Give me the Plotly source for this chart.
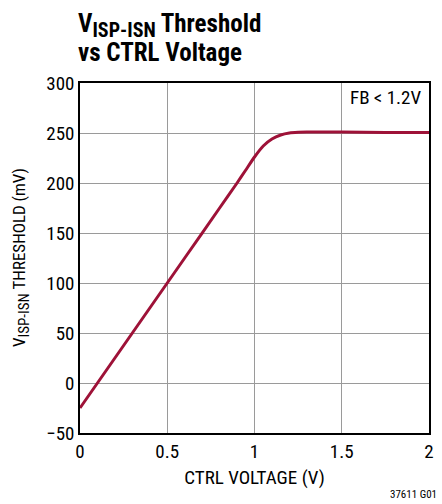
import plotly.graph_objects as go

ctrl_v = [0.0, 0.2, 0.4, 0.6, 0.8, 0.9, 0.95, 1.0, 1.05, 1.1, 1.15, 1.2, 1.25, 1.3, 1.5, 1.75, 2.0]
threshold_mv = [-25, 25, 75, 125, 175, 200, 213, 226, 237, 244, 248, 250, 250.7, 251, 251, 250.5, 250.5]

x_ticks = [0, 0.5, 1, 1.5, 2]
x_labels = ["0", "0.5", "1", "1.5", "2"]
y_ticks = [-50, 0, 50, 100, 150, 200, 250, 300]
y_labels = ["\u221250", "0", "50", "100", "150", "200", "250", "300"]

FONT = "Liberation Sans Narrow, Roboto Condensed, Arial Narrow, sans-serif"

fig = go.Figure()
fig.add_trace(go.Scatter(
    x=ctrl_v, y=threshold_mv, mode="lines",
    line=dict(color="#9E1238", width=3, shape="spline", smoothing=0.6),
    showlegend=False, hoverinfo="skip"))

axis_common = dict(
    showgrid=True, gridcolor="#9a9a9a", gridwidth=1,
    showline=True, linecolor="black", linewidth=1.5, mirror=True,
    ticks="", zeroline=False,
    tickfont=dict(family=FONT, size=19, color="black"),
)

fig.update_xaxes(range=[0, 2], tickvals=x_ticks, ticktext=x_labels,
                 title=dict(text="CTRL VOLTAGE (V)", font=dict(family=FONT, size=19, color="black"), standoff=9),
                 **axis_common)
fig.update_yaxes(range=[-50, 300], tickvals=y_ticks, ticktext=y_labels, **axis_common)

fig.update_layout(
    width=442, height=504,
    margin=dict(l=80, r=8, t=83, b=71),
    paper_bgcolor="white", plot_bgcolor="white",
    font=dict(family=FONT, color="black"),
    annotations=[
        dict(text="<b>V<sub><span style='font-size:20px'>ISP-ISN</span></sub> Threshold</b>",
             xref="paper", yref="paper", x=0, xshift=-4, y=1.0, yshift=76, xanchor="left", yanchor="top",
             align="left", showarrow=False, font=dict(family=FONT, size=25, color="black")),
        dict(text="<b>vs CTRL Voltage</b>",
             xref="paper", yref="paper", x=0, xshift=-4, y=1.0, yshift=47, xanchor="left", yanchor="top",
             align="left", showarrow=False, font=dict(family=FONT, size=25, color="black")),
        dict(text="V<sub><span style='font-size:15px'>ISP-ISN</span></sub> THRESHOLD (mV)",
             xref="paper", yref="paper", x=0, xshift=-59, y=0.5, textangle=-90,
             xanchor="center", yanchor="middle", showarrow=False,
             font=dict(family=FONT, size=17, color="black")),
        dict(text="FB < 1.2V", xref="paper", yref="paper", x=1.0, xshift=-6, y=1.0, yshift=-1,
             xanchor="right", yanchor="top", showarrow=False,
             font=dict(family=FONT, size=19, color="black"), bgcolor="white"),
        dict(text="37611 G01", xref="paper", yref="paper", x=1.0, xshift=10, y=0, yshift=-61,
             xanchor="right", yanchor="middle", showarrow=False,
             font=dict(family=FONT, size=11, color="black")),
    ],
)

fig.write_html("out.html", config={"displayModeBar": False},
               post_script="document.body.style.margin='0';document.body.style.overflow='hidden';")
